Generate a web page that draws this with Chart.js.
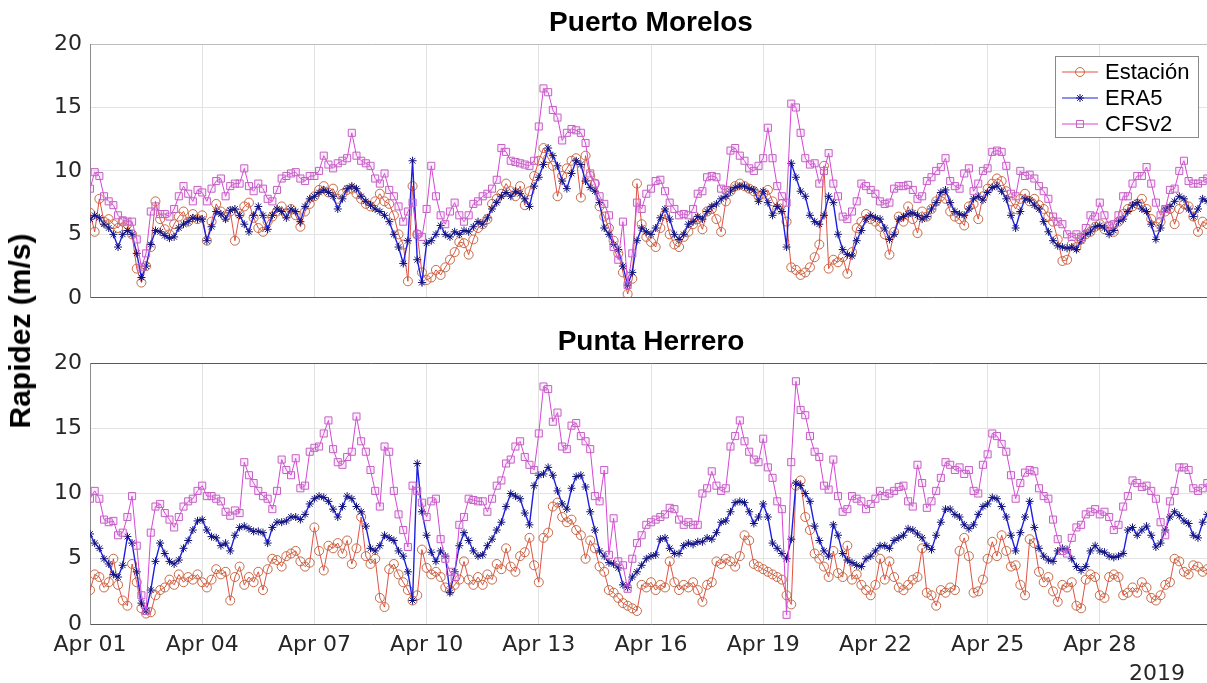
<!DOCTYPE html>
<html>
<head>
<meta charset="utf-8">
<title>Rapidez del viento - abril 2019</title>
<script src="https://cdn.jsdelivr.net/npm/chart.js"></script>
<style>
  html, body { margin: 0; padding: 0; background: #fff; overflow: hidden; }
  body { width: 1207px; height: 683px; position: relative; }
  .panel { position: absolute; left: 0; width: 1240px; }
  #top { top: 0; height: 319px; }
  #bottom { top: 319px; height: 364px; }
  #ylabel {
    position: absolute; left: 20px; top: 331px;
    transform: translate(-50%, -50%) rotate(-90deg);
    font: bold 30px "Liberation Sans", Arial, sans-serif;
    white-space: nowrap; color: #000; line-height: 1;
  }
  #year {
    position: absolute; right: 22px; top: 662px;
    font: 22px "DejaVu Sans", sans-serif; line-height: 1; color: #262626;
  }
</style>
</head>
<body>
<div class="panel" id="top"><canvas id="pm"></canvas></div>
<div class="panel" id="bottom"><canvas id="ph"></canvas></div>
<div id="ylabel">Rapidez (m/s)</div>
<div id="year">2019</div>
<script>
// eje x: cada 3 días desde el 1 de abril
const tickLabels = ['Apr 01', 'Apr 04', 'Apr 07', 'Apr 10', 'Apr 13', 'Apr 16', 'Apr 19', 'Apr 22', 'Apr 25', 'Apr 28'];
const seriesNames = ['Estación', 'ERA5', 'CFSv2'];
const stepHours = 3; // un valor cada 3 horas

// Puerto Morelos (m/s)
const pmEstacion = [
  6.7, 5.2, 7.8, 6.0, 6.2, 5.8, 5.5, 6.0, 5.8, 5.0, 2.3, 1.2, 2.5, 4.0, 7.6, 6.2,
  5.4, 5.0, 5.8, 6.4, 6.8, 6.0, 6.6, 6.2, 6.5, 4.5, 6.0, 7.4, 6.8, 6.4, 6.8, 4.5,
  6.6, 7.2, 7.5, 6.3, 5.5, 5.2, 6.0, 6.4, 6.8, 7.2, 6.6, 7.0, 6.5, 5.6, 6.8, 7.4,
  8.0, 8.5, 8.8, 8.3, 8.6, 7.8, 8.2, 8.5, 8.6, 8.2, 7.8, 7.4, 7.2, 7.6, 8.2, 7.6,
  7.4, 6.5, 5.0, 4.2, 1.3, 8.8, 5.0, 2.0, 1.4, 1.6, 2.2, 1.8, 2.4, 3.0, 3.6, 4.4,
  4.3, 3.4, 4.6, 5.5, 5.8, 6.2, 7.4, 7.8, 8.2, 9.0, 8.4, 8.0, 8.8, 7.3, 8.4, 9.6,
  10.8, 11.8, 11.0, 10.4, 8.0, 9.6, 10.2, 10.8, 11.0, 7.9, 11.2, 9.6, 9.0, 7.2, 6.4, 5.5,
  4.5, 3.5, 2.0, 0.3, 1.5, 9.0, 5.8, 4.8, 4.4, 4.0, 5.5, 6.6, 5.0, 4.2, 4.0, 4.8,
  5.2, 5.8, 6.2, 5.4, 6.8, 7.0, 6.2, 5.2, 7.6, 8.4, 8.8, 9.0, 8.8, 8.6, 8.4, 8.0,
  8.2, 8.5, 7.6, 7.0, 7.4, 6.0, 2.4, 2.2, 1.8, 2.0, 2.4, 3.2, 4.2, 10.4, 2.3, 3.0,
  2.8, 3.2, 1.9, 3.6, 5.5, 6.0, 6.6, 6.2, 6.0, 5.6, 5.0, 3.4, 5.2, 6.4, 6.0, 7.2,
  6.2, 5.1, 6.8, 6.4, 7.0, 7.6, 8.0, 7.8, 6.8, 6.4, 6.2, 5.7, 7.2, 7.4, 6.2, 8.0,
  8.6, 9.0, 9.4, 9.2, 8.4, 7.6, 7.0, 7.8, 8.2, 7.6, 7.8, 7.3, 7.0, 6.4, 6.0, 4.6,
  2.9, 3.0, 4.2, 4.0, 4.6, 5.0, 5.2, 5.6, 5.8, 5.4, 5.6, 5.2, 6.0, 6.6, 7.0, 7.2,
  7.4, 7.8, 7.0, 6.2, 5.6, 6.0, 6.8, 7.0, 5.8, 7.0, 7.4, 7.2, 6.4, 5.2, 6.0, 5.8
];
const pmEra5 = [
  6.2, 6.5, 6.3, 5.8, 5.5, 5.0, 4.0, 5.0, 5.3, 5.0, 3.5, 1.6, 2.5, 4.2, 5.3, 5.2,
  4.9, 4.7, 4.8, 5.5, 5.8, 6.0, 6.3, 6.2, 6.2, 4.5, 5.6, 6.8, 6.6, 6.2, 6.9, 7.0,
  6.5, 5.8, 5.2, 6.5, 7.2, 6.5, 5.4, 6.5, 7.0, 6.8, 6.3, 7.0, 6.8, 6.0, 7.2, 7.8,
  8.0, 8.3, 8.5, 8.3, 8.0, 7.0, 7.8, 8.6, 8.8, 8.6, 8.0, 7.6, 7.3, 7.0, 6.8, 6.5,
  6.0, 5.0, 4.0, 2.7, 4.5, 10.8, 3.0, 1.2, 4.3, 4.5, 5.0, 5.7, 5.0, 4.8, 5.2, 5.0,
  5.3, 5.2, 5.6, 6.0, 5.8, 6.3, 7.0, 7.5, 8.0, 8.3, 8.0, 8.4, 8.2, 7.8, 7.2, 8.8,
  9.5, 10.5, 11.8, 11.2, 10.4, 9.2, 8.6, 9.8, 10.8, 10.5, 9.2, 8.7, 8.4, 7.5, 5.5, 5.0,
  4.2, 3.8, 2.5, 1.0, 2.0, 4.5, 5.5, 5.2, 5.0, 5.5, 6.3, 7.0, 6.2, 5.0, 4.6, 5.0,
  5.8, 6.0, 6.4, 6.2, 6.8, 7.2, 7.4, 7.8, 8.0, 8.4, 8.7, 8.8, 8.8, 8.6, 8.5, 7.6,
  8.4, 7.5, 6.5, 7.2, 6.8, 4.0, 10.6, 9.5, 8.4, 8.0, 6.5, 6.0, 5.8, 6.5, 8.0, 7.5,
  5.0, 3.8, 3.4, 3.3, 4.5, 5.3, 6.2, 6.5, 6.3, 6.2, 5.5, 4.6, 5.0, 6.2, 6.4, 6.6,
  6.7, 6.5, 6.2, 6.4, 7.0, 7.5, 8.3, 8.5, 7.5, 6.8, 6.6, 6.5, 7.0, 7.8, 8.0, 7.7,
  8.3, 8.7, 8.8, 8.4, 7.8, 6.5, 5.5, 6.8, 7.8, 7.7, 7.3, 7.0, 6.0, 5.2, 4.5, 4.1,
  4.0, 3.9, 4.0, 3.8, 4.5, 5.0, 5.2, 5.6, 5.7, 5.5, 5.0, 5.3, 6.0, 6.2, 6.8, 7.3,
  7.5, 7.0, 6.8, 5.8, 4.6, 5.5, 7.0, 7.2, 7.6, 8.0, 7.8, 7.0, 6.4, 7.0, 7.8, 7.6
];
const pmCfsv2 = [
  8.6, 9.9, 9.6, 8.0, 7.6, 7.3, 6.5, 6.1, 6.0, 6.0, 4.6, 2.4, 3.5, 6.8, 7.2, 6.6,
  6.6, 6.4, 7.0, 8.0, 8.8, 8.2, 7.6, 8.5, 8.3, 7.6, 8.6, 9.2, 9.4, 8.0, 8.8, 9.0,
  9.0, 10.2, 8.8, 8.4, 9.0, 8.6, 7.8, 7.6, 8.5, 9.4, 9.6, 9.8, 9.9, 9.4, 9.2, 9.6,
  9.6, 10.0, 11.2, 10.5, 10.2, 10.6, 10.8, 11.0, 13.0, 11.2, 10.8, 10.6, 10.4, 9.4, 9.0, 9.8,
  8.5, 8.0, 7.2, 6.0, 6.8, 7.5, 5.0, 4.8, 7.0, 10.4, 8.0, 6.5, 5.8, 6.8, 7.5, 6.5,
  6.0, 6.5, 7.4, 7.6, 8.0, 8.2, 8.6, 9.3, 11.8, 11.5, 10.8, 10.7, 10.6, 10.5, 10.4, 10.8,
  13.5, 16.5, 16.2, 14.8, 14.2, 12.4, 13.0, 13.3, 13.2, 13.0, 12.2, 9.8, 9.0, 8.0, 7.4, 6.5,
  4.0, 3.0, 6.0, 1.0, 3.5, 7.5, 7.0, 8.2, 8.6, 9.2, 9.3, 8.4, 7.5, 7.0, 6.5, 6.6,
  6.5, 7.0, 8.2, 8.4, 9.5, 9.6, 9.5, 8.6, 8.5, 11.6, 11.8, 11.2, 10.8, 10.2, 10.0, 10.4,
  11.0, 13.4, 11.0, 8.8, 8.0, 7.5, 15.3, 15.0, 13.0, 11.0, 10.5, 10.6, 9.0, 10.0, 11.4, 9.0,
  8.0, 6.4, 6.2, 6.8, 7.6, 9.0, 8.8, 8.5, 8.2, 7.6, 7.4, 7.5, 8.6, 8.8, 8.8, 8.9,
  8.5, 7.8, 8.0, 9.2, 9.5, 10.0, 10.3, 11.0, 9.2, 8.8, 8.6, 9.8, 10.2, 8.4, 9.0, 10.0,
  10.2, 11.5, 11.6, 11.5, 10.4, 8.2, 8.0, 10.0, 9.6, 9.7, 9.4, 8.8, 8.4, 7.8, 6.4, 6.0,
  5.8, 5.0, 4.8, 5.0, 4.8, 5.5, 6.5, 6.4, 7.5, 6.5, 5.7, 5.8, 6.5, 8.0, 8.0, 9.0,
  9.6, 9.6, 10.3, 9.0, 7.5, 6.5, 7.0, 8.5, 8.6, 10.0, 10.8, 9.2, 9.0, 9.0, 9.2, 9.4
];

// Punta Herrero (m/s)
const phEstacion = [
  2.6, 3.8, 3.6, 2.8, 3.2, 5.0, 3.0, 1.8, 1.4, 4.6, 3.2, 1.2, 0.8, 0.9, 2.2, 2.6,
  2.8, 3.4, 3.0, 3.8, 3.2, 3.6, 3.4, 3.8, 3.2, 2.8, 3.4, 4.2, 3.8, 4.0, 1.8, 3.6,
  4.4, 3.0, 3.6, 3.2, 4.0, 2.6, 4.2, 5.0, 4.9, 4.4, 5.2, 5.4, 5.6, 4.8, 4.4, 4.7,
  7.4, 5.6, 4.1, 6.0, 5.8, 6.2, 5.4, 6.4, 4.6, 5.8, 8.2, 5.2, 4.6, 5.0, 2.0, 1.3,
  4.2, 4.6, 3.8, 3.2, 2.6, 1.8, 2.2, 5.7, 4.3, 3.8, 4.0, 3.6, 2.8, 2.6, 3.0, 3.4,
  4.8, 3.4, 3.0, 3.6, 3.0, 3.8, 3.4, 4.6, 4.2, 5.8, 4.4, 4.0, 5.2, 5.5, 6.6, 4.5,
  3.2, 6.6, 7.0, 9.0, 9.3, 8.2, 7.8, 8.0, 7.2, 6.8, 5.0, 6.4, 5.8, 4.4, 4.0, 2.6,
  2.4, 2.0, 1.6, 1.4, 1.2, 1.0, 3.0, 2.8, 3.2, 2.6, 3.0, 2.8, 4.8, 3.2, 2.6, 3.0,
  2.8, 3.2, 2.6, 1.7, 3.0, 3.2, 4.8, 4.6, 5.0, 4.8, 4.4, 5.2, 6.8, 6.4, 4.6, 4.4,
  4.2, 4.0, 3.8, 3.6, 3.4, 2.2, 1.5, 10.6, 11.0, 8.2, 7.2, 5.4, 5.0, 4.4, 3.6, 5.6,
  3.9, 3.6, 6.0, 3.4, 3.8, 3.0, 2.6, 2.2, 3.0, 5.0, 3.4, 4.8, 3.6, 2.8, 2.6, 3.0,
  3.4, 3.6, 5.8, 2.4, 2.2, 1.4, 2.6, 2.4, 2.8, 2.6, 5.6, 6.6, 5.2, 2.4, 2.5, 3.4,
  5.0, 6.3, 5.2, 6.8, 5.6, 4.4, 4.5, 3.0, 2.2, 6.5, 6.2, 4.0, 3.2, 3.6, 2.5, 1.7,
  3.0, 2.8, 3.2, 1.4, 1.2, 3.4, 3.8, 3.6, 2.2, 2.0, 3.6, 3.8, 3.6, 2.2, 2.4, 2.8,
  2.4, 3.2, 2.8, 2.0, 1.8, 2.2, 3.0, 3.2, 5.0, 4.8, 4.0, 3.8, 4.5, 4.4, 4.0, 4.2
];
const phEra5 = [
  6.9, 6.2, 5.8, 5.0, 4.6, 3.8, 3.6, 4.5, 6.7, 6.2, 4.0, 1.6, 1.0, 2.6, 4.8, 6.2,
  5.4, 4.8, 4.6, 4.9, 5.8, 6.4, 7.2, 7.9, 8.0, 7.2, 6.7, 6.6, 6.0, 6.2, 5.6, 6.8,
  7.4, 7.5, 7.3, 7.1, 7.1, 7.0, 6.2, 7.4, 7.8, 7.8, 7.9, 8.2, 8.2, 8.0, 8.4, 9.2,
  9.6, 9.8, 9.7, 9.4, 8.8, 8.2, 9.0, 9.8, 9.6, 9.0, 8.6, 7.5, 5.8, 5.6, 6.0, 6.8,
  6.6, 6.4, 5.6, 5.2, 4.0, 1.8, 12.3, 8.6, 6.8, 5.5, 4.8, 5.6, 5.2, 2.4, 4.0, 6.0,
  7.0, 6.4, 5.6, 5.2, 5.3, 6.0, 6.5, 7.2, 7.8, 9.0, 10.0, 9.8, 9.6, 8.5, 7.6, 10.6,
  11.4, 11.5, 12.0, 11.4, 10.2, 9.2, 8.8, 10.4, 11.3, 11.4, 10.5, 8.6, 7.2, 5.6, 5.2, 4.7,
  4.6, 4.3, 3.0, 2.8, 3.6, 4.0, 4.5, 5.0, 5.2, 5.3, 6.5, 6.6, 5.8, 5.4, 5.4, 6.0,
  6.2, 6.1, 6.3, 6.3, 6.6, 6.5, 7.0, 7.8, 7.9, 8.6, 9.3, 9.4, 9.3, 8.6, 7.7, 8.2,
  9.2, 8.2, 6.2, 5.8, 5.4, 5.0, 6.5, 10.8, 10.6, 10.0, 9.4, 7.5, 6.4, 5.6, 5.2, 7.6,
  6.8, 5.4, 4.9, 4.7, 4.5, 4.4, 5.0, 5.2, 5.6, 6.0, 6.0, 5.8, 6.4, 6.6, 6.8, 7.3,
  7.2, 6.9, 6.6, 6.0, 5.7, 6.8, 7.8, 8.8, 8.8, 8.4, 8.2, 7.6, 7.3, 7.6, 8.4, 9.0,
  9.2, 9.7, 9.6, 9.0, 8.2, 6.8, 5.6, 7.0, 8.2, 9.4, 7.4, 5.8, 5.2, 4.9, 4.8, 5.6,
  5.8, 5.7, 5.0, 4.4, 4.1, 4.4, 5.6, 6.0, 5.6, 5.5, 5.2, 5.1, 5.2, 5.4, 7.2, 7.4,
  6.8, 7.2, 7.5, 6.8, 5.9, 6.2, 7.2, 8.2, 8.6, 8.3, 7.9, 7.7, 6.8, 6.6, 7.8, 8.4
];
const phCfsv2 = [
  9.6, 10.2, 9.6, 8.0, 7.8, 7.9, 6.8, 7.0, 8.2, 9.8, 6.0, 2.2, 1.0, 7.0, 9.0, 9.2,
  8.5, 8.0, 7.4, 8.2, 9.0, 9.4, 9.6, 10.2, 10.6, 9.8, 9.8, 9.6, 9.4, 8.6, 8.3, 8.7,
  8.5, 12.4, 11.4, 10.8, 10.2, 9.8, 9.6, 8.8, 10.2, 12.6, 11.8, 11.4, 12.7, 10.4, 10.6, 13.2,
  13.5, 13.6, 14.6, 15.6, 13.4, 12.4, 12.2, 12.8, 13.2, 15.9, 14.0, 13.2, 11.8, 10.2, 9.0, 13.6,
  13.2, 10.2, 8.4, 7.2, 5.9, 10.6, 10.2, 9.3, 8.2, 9.4, 9.6, 6.5, 5.0, 4.0, 3.6, 7.6,
  8.2, 9.6, 9.5, 9.4, 9.4, 8.6, 9.6, 10.6, 11.0, 12.3, 12.6, 13.6, 14.0, 12.8, 12.2, 11.8,
  14.6, 18.2, 18.0, 15.5, 16.2, 13.6, 13.4, 15.2, 15.4, 14.4, 14.0, 13.4, 9.8, 9.4, 11.8, 5.3,
  8.1, 4.8, 4.5, 2.7, 5.0, 6.2, 6.8, 7.6, 7.8, 8.0, 8.2, 8.4, 8.9, 8.8, 8.0, 7.6,
  7.8, 7.6, 7.6, 10.0, 10.4, 11.7, 10.6, 10.2, 10.4, 13.6, 14.4, 15.6, 14.0, 13.2, 12.6, 12.4,
  14.2, 12.0, 11.2, 9.4, 8.8, 0.7, 12.4, 18.6, 16.4, 16.0, 14.4, 13.2, 12.8, 10.6, 10.3, 12.6,
  9.8, 8.6, 8.8, 9.8, 9.6, 9.4, 8.8, 9.2, 9.6, 10.2, 9.8, 10.0, 10.2, 10.5, 10.6, 9.4,
  9.0, 12.2, 10.8, 8.9, 9.4, 10.2, 11.2, 12.4, 12.2, 11.8, 12.0, 11.5, 11.8, 10.2, 10.0, 12.2,
  13.0, 14.6, 14.4, 13.8, 13.2, 11.4, 9.6, 10.8, 11.6, 11.8, 11.7, 10.4, 9.8, 9.6, 8.0, 6.5,
  5.6, 5.4, 6.6, 7.4, 7.6, 8.4, 8.6, 8.8, 8.4, 8.6, 8.2, 7.2, 7.6, 9.0, 9.8, 11.0,
  10.8, 10.5, 10.6, 10.2, 9.6, 7.8, 6.8, 9.4, 10.2, 12.0, 12.0, 11.8, 10.4, 10.2, 10.4, 10.8
];

const styles = [
  { borderColor: 'rgba(222,62,48,0.9)', borderWidth: 1, pointStyle: 'circle', pointRadius: 4.5,
    pointBorderColor: 'rgba(196,100,60,0.95)', pointBackgroundColor: 'rgba(0,0,0,0)', order: 3 },
  { borderColor: '#1f1fe0', borderWidth: 1.4, pointStyle: 'star', pointRadius: 4,
    pointBorderColor: '#12127a', pointBackgroundColor: '#12127a', order: 2 },
  { borderColor: '#d545d5', borderWidth: 1, pointStyle: 'rect', pointRadius: 5,
    pointBorderColor: '#c461c4', pointBackgroundColor: 'rgba(235,140,235,0.15)', order: 1 }
];

function toPoints(values) {
  return values.map((v, i) => ({ x: i * stepHours / 24, y: v }));
}

function drawMarker(ctx, style, r, x, y) {
  ctx.beginPath();
  if (style === 'circle') {
    ctx.arc(x, y, r, 0, Math.PI * 2);
  } else if (style === 'rect') {
    const s = r * Math.SQRT1_2;
    ctx.rect(x - s, y - s, 2 * s, 2 * s);
  } else {
    for (let k = 0; k < 4; k++) {
      const a = k * Math.PI / 4;
      ctx.moveTo(x - r * Math.cos(a), y - r * Math.sin(a));
      ctx.lineTo(x + r * Math.cos(a), y + r * Math.sin(a));
    }
  }
  ctx.stroke();
}

// recuadro de leyenda estilo MATLAB, arriba a la derecha del panel superior
const legendBox = {
  id: 'legendBox',
  afterDatasetsDraw(chart, args, opts) {
    if (!opts.show) return;
    const ctx = chart.ctx;
    const x0 = 1055, y0 = 56, w = 143, h = 81;
    ctx.save();
    ctx.fillStyle = '#fff';
    ctx.fillRect(x0, y0, w, h);
    ctx.strokeStyle = '#8a8a8a';
    ctx.lineWidth = 1;
    ctx.strokeRect(x0 + 0.5, y0 + 0.5, w, h);
    ctx.font = '22px "Liberation Sans", Arial, sans-serif';
    ctx.textBaseline = 'middle';
    chart.data.datasets.forEach((ds, i) => {
      const y = y0 + 16 + i * 26;
      ctx.lineWidth = 1;
      ctx.strokeStyle = ds.borderColor;
      ctx.beginPath();
      ctx.moveTo(x0 + 7, y);
      ctx.lineTo(x0 + 43, y);
      ctx.stroke();
      ctx.strokeStyle = ds.pointBorderColor;
      drawMarker(ctx, ds.pointStyle, ds.pointRadius, x0 + 25, y);
      ctx.fillStyle = '#000';
      ctx.fillText(ds.label, x0 + 50, y + 1);
    });
    ctx.restore();
  }
};

function makeChart(id, title, est, era, cfs, cfg) {
  const values = [est, era, cfs];
  const datasets = values.map((vals, i) => Object.assign({
    label: seriesNames[i],
    data: toPoints(vals),
    pointBorderWidth: 1
  }, styles[i]));

  return new Chart(document.getElementById(id), {
    type: 'line',
    data: { datasets: datasets },
    options: {
      responsive: true,
      maintainAspectRatio: false,
      animation: false,
      devicePixelRatio: 1,
      layout: { padding: { top: 0, left: 0, right: 28, bottom: cfg.padBottom } },
      plugins: {
        legend: { display: false },
        tooltip: { enabled: false },
        title: {
          display: true, text: title, fullSize: false, color: '#000',
          font: { family: 'Liberation Sans', size: 28, weight: 'bold' },
          padding: { top: 6.2, bottom: 4.2 }
        },
        legendBox: { show: cfg.legend }
      },
      scales: {
        x: {
          type: 'linear', min: 0, max: 30,
          afterFit: s => { s.height = cfg.xHeight; },
          ticks: {
            display: cfg.xLabels, stepSize: 3, autoSkip: false, maxRotation: 0,
            padding: 8, color: '#262626',
            font: { family: 'DejaVu Sans', size: 22 },
            callback: v => tickLabels[v / 3] || ''
          },
          grid: { color: '#e3e3e3', drawTicks: false },
          border: { color: '#5a5a5a' }
        },
        y: {
          min: 0, max: 20,
          afterFit: s => { s.width = 90; },
          ticks: {
            stepSize: 5, padding: 8, color: '#262626',
            font: { family: 'DejaVu Sans', size: 22 }
          },
          grid: {
            color: c => (c.tick && c.tick.value === 20) ? cfg.topLine : '#e3e3e3',
            drawTicks: false
          },
          border: { color: '#8c8c8c' }
        }
      }
    },
    plugins: [legendBox]
  });
}

makeChart('pm', 'Puerto Morelos', pmEstacion, pmEra5, pmCfsv2,
  { padBottom: 14, xHeight: 0, xLabels: false, legend: true, topLine: '#bdbdbd' });
makeChart('ph', 'Punta Herrero', phEstacion, phEra5, phCfsv2,
  { padBottom: 9, xHeight: 50, xLabels: true, legend: false, topLine: '#5a5a5a' });
</script>
</body>
</html>
